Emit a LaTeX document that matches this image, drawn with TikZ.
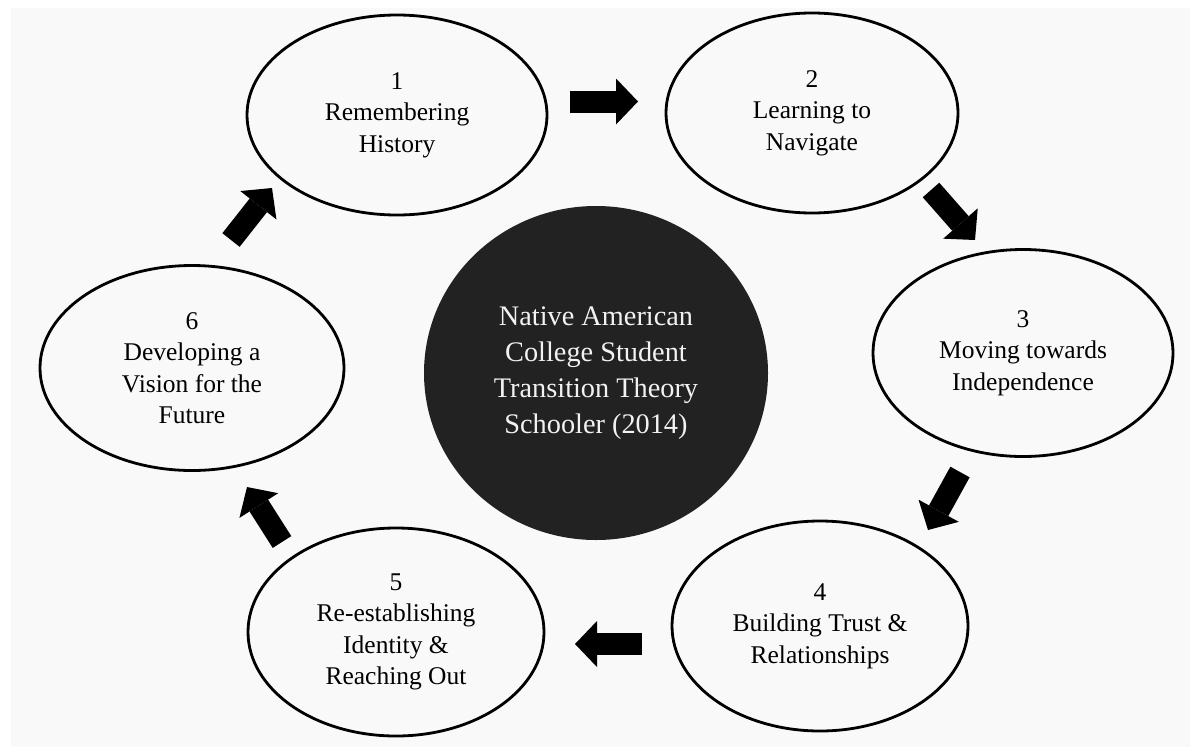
\documentclass[tikz,border=0pt]{standalone}
\usepackage{fontspec}
\setmainfont{Liberation Serif}
\usetikzlibrary{shapes.geometric,arrows.meta}
\definecolor{bggray}{RGB}{249,249,249}
\definecolor{darkfill}{RGB}{34,34,34}
\definecolor{lighttext}{RGB}{242,242,242}
\begin{document}
\begin{tikzpicture}[x=1pt,y=-1pt,
  stage/.style={ellipse, draw=black, line width=2.8pt, inner sep=0pt, align=center,
    font=\fontsize{25.5}{31.5}\selectfont},
  hub/.style={ellipse, fill=darkfill, inner sep=0pt, align=center, text=lighttext,
    font=\fontsize{28.3}{36}\selectfont},
  flow/.style={line width=22pt, -{Triangle[length=22pt,width=46pt,line width=0pt]}}
]
\useasboundingbox (0,0) rectangle (1190,747);
\fill[white] (0,0) rectangle (1190,747);
\fill[bggray] (11,8) rectangle (1190,747);

\node[hub, minimum width=344pt, minimum height=334pt] (hub) at (596,373)
  {Native American\\College Student\\Transition Theory\\Schooler (2014)};

\node[stage, minimum width=300pt, minimum height=200pt] (s1) at (397,115) {1\\Remembering\\History};
\node[stage, minimum width=292pt, minimum height=200pt] (s2) at (812,113) {2\\Learning to\\Navigate};
\node[stage, minimum width=300pt, minimum height=207pt] (s3) at (1023,353) {3\\Moving towards\\Independence};
\node[stage, minimum width=296pt, minimum height=210pt] (s4) at (820,626) {4\\Building Trust \&\\Relationships};
\node[stage, minimum width=296pt, minimum height=208pt] (s5) at (396,632) {5\\Re-establishing\\Identity \&\\Reaching Out};
\node[stage, minimum width=304pt, minimum height=205pt] (s6) at (192,368) {6\\Developing a\\Vision for the\\Future};

\coordinate (a12s) at (570,101.5); \coordinate (a12e) at (638,101.5);
\coordinate (a23s) at (931,190);   \coordinate (a23e) at (975,240);
\coordinate (a34s) at (960,472);   \coordinate (a34e) at (928,530);
\coordinate (a45s) at (642,644);   \coordinate (a45e) at (575,644);
\coordinate (a56s) at (282,542);   \coordinate (a56e) at (247,487);
\coordinate (a61s) at (231,240);   \coordinate (a61e) at (272,188);

\draw[flow] (a12s) -- (a12e);
\draw[flow] (a23s) -- (a23e);
\draw[flow] (a34s) -- (a34e);
\draw[flow] (a45s) -- (a45e);
\draw[flow] (a56s) -- (a56e);
\draw[flow] (a61s) -- (a61e);
\end{tikzpicture}
\end{document}
